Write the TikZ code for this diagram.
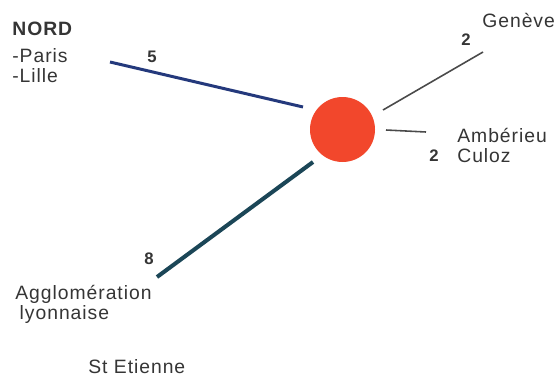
\documentclass[tikz,border=0pt]{standalone}
\usepackage{fontspec}
\setmainfont{Liberation Sans}[LetterSpace=5]
\usepackage{tikz}
\usetikzlibrary{positioning}
\definecolor{trRed}{HTML}{F2472C}
\definecolor{trNavy}{HTML}{24397C}
\definecolor{trTeal}{HTML}{1B4657}
\definecolor{trGrey}{HTML}{4A4A4A}
\definecolor{trInk}{HTML}{353535}
\tikzset{
  hub/.style={circle, fill=trRed, minimum size=1.3cm, inner sep=0pt},
  linknord/.style={line width=1.7pt, draw=trNavy},
  linklyon/.style={line width=2.3pt, draw=trTeal},
  linkthin/.style={line width=0.9pt, draw=trGrey},
  place/.style={font=\fontsize{11}{11.5}\selectfont, text=trInk, align=left, inner sep=0pt},
  count/.style={font=\fontsize{9.5}{11}\selectfont\bfseries, text=trInk, inner sep=0pt}
}
\begin{document}
\begin{tikzpicture}[x=0.02cm,y=-0.02cm]
  \useasboundingbox[fill=white] (0,0) rectangle (557,376);
  \node[hub] (lyon) at (342.5,129.5) {};
  % places
  \node[place, anchor=north west] (nord) at (12,22) {\textbf{NORD}\\[3.5pt]-Paris\\-Lille};
  \node[place, anchor=base west] (geneve) at (482,27) {Genève};
  \node[place, anchor=north west] (amberieu) at (457,128) {Ambérieu\\Culoz};
  \node[place, anchor=north west] (agglo) at (15,285) {Agglomération\\\hspace*{2.5pt}lyonnaise};
  \node[place, anchor=base west] (stetienne) at (88,373) {St Etienne};
  % line ends
  \coordinate (nordA) at (110,62);
  \coordinate (nordB) at (303,107);
  \coordinate (genA) at (483,52);
  \coordinate (genB) at (383,110);
  \coordinate (ambA) at (426,132);
  \coordinate (ambB) at (386,130);
  \coordinate (aggA) at (157,277);
  \coordinate (aggB) at (313,162);
  \draw[linknord] (nordA) -- (nordB);
  \draw[linkthin] (genA) -- (genB);
  \draw[linkthin] (ambA) -- (ambB);
  \draw[linklyon] (aggA) -- (aggB);
  % counts
  \node[count] (n5) at (152,57) {5};
  \node[count] (n2g) at (466,40) {2};
  \node[count] (n2a) at (434,156) {2};
  \node[count] (n8) at (149,259) {8};
\end{tikzpicture}
\end{document}
